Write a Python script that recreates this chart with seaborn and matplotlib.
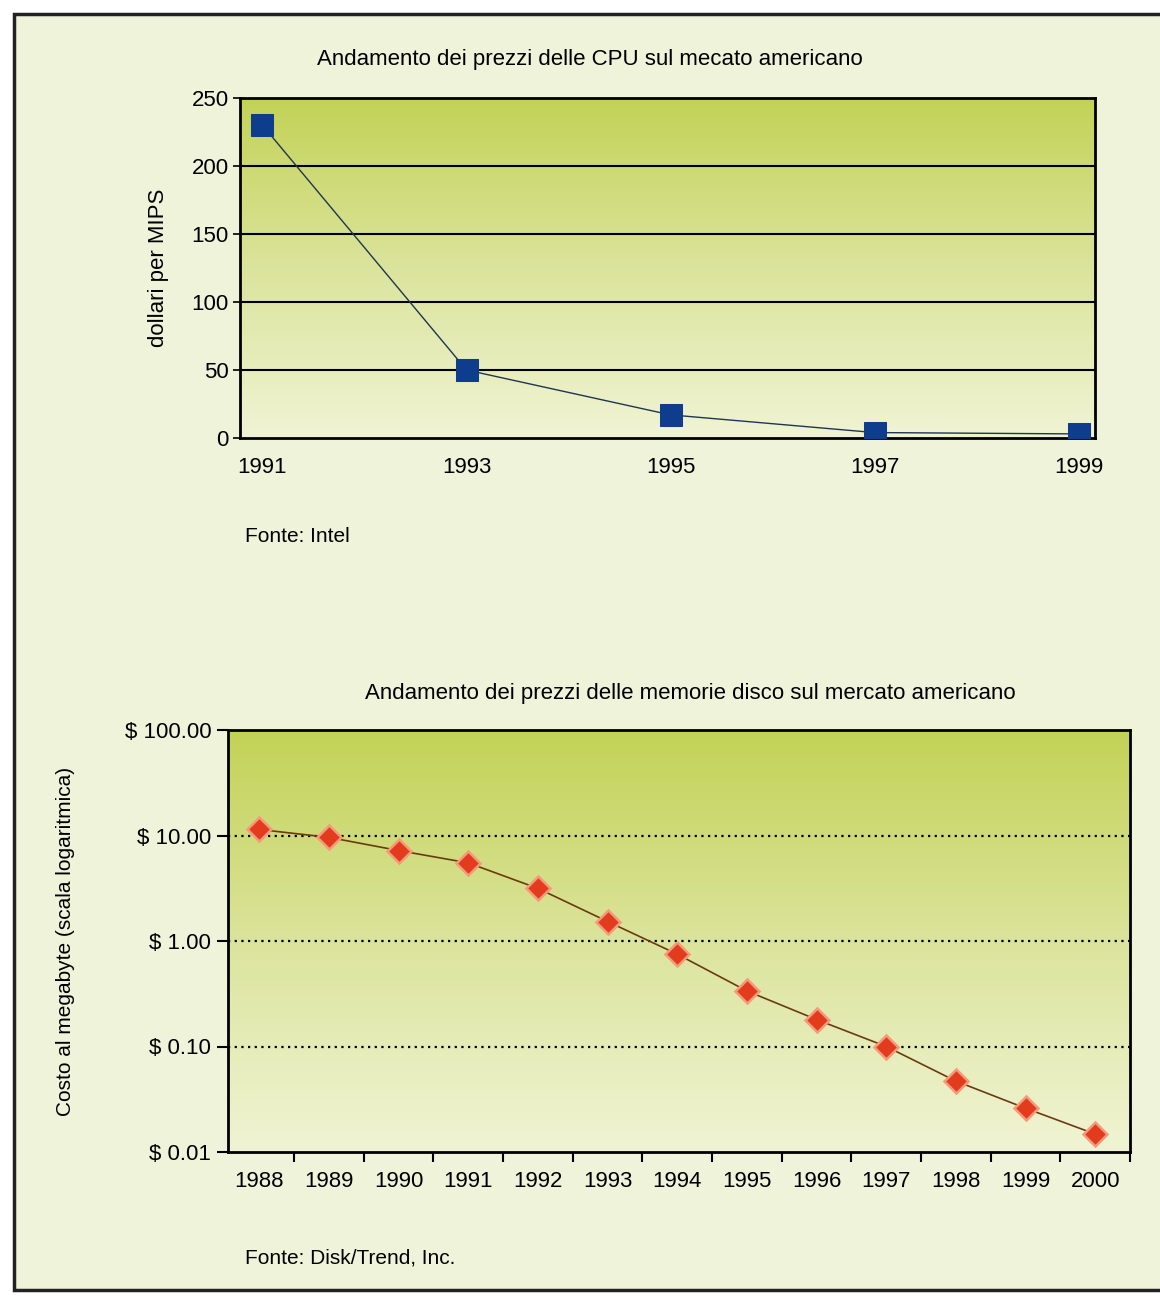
import numpy as np
import pandas as pd
import matplotlib
matplotlib.use("Agg")
import matplotlib.pyplot as plt
import seaborn as sns
from matplotlib.colors import LinearSegmentedColormap
from matplotlib.patches import Rectangle

# Dati
anni_cpu = ["1991", "1993", "1995", "1997", "1999"]
prezzo_cpu = [230, 50, 17, 4, 3]

anni_disco = ["1988", "1989", "1990", "1991", "1992", "1993", "1994",
              "1995", "1996", "1997", "1998", "1999", "2000"]
prezzo_disco = [11.4, 9.6, 7.2, 5.5, 3.15, 1.53, 0.75,
                0.336, 0.18, 0.10, 0.047, 0.026, 0.0148]

tick_disco = [0.01, 0.1, 1, 10, 100]
label_disco = ["$ 0.01", "$ 0.10", "$ 1.00", "$ 10.00", "$ 100.00"]

sns.set_style("white")
plt.rcParams["font.family"] = ["Liberation Sans Narrow", "Liberation Sans", "DejaVu Sans"]
plt.rcParams["text.color"] = "black"
plt.rcParams["xtick.color"] = "black"
plt.rcParams["ytick.color"] = "black"
plt.rcParams["axes.labelcolor"] = "black"

W, H = 1160, 1298
fig = plt.figure(figsize=(W / 100, H / 100), dpi=100)
fig.patch.set_facecolor("white")

# Sfondo e cornice esterna
bg = Rectangle((14 / W, 1 - 1290 / H), (W + 20) / W, (1290 - 14) / H,
               transform=fig.transFigure, facecolor="#eef3da",
               edgecolor="#222222", linewidth=2.5, zorder=-10)
fig.patches.append(bg)

grad = LinearSegmentedColormap.from_list("g", ["#f0f4d4", "#dbe49c", "#c3d256"])


def ax_rect(l, t, r, b):
    return [l / W, 1 - b / H, (r - l) / W, (b - t) / H]


def gradiente(ax):
    ax.imshow(np.linspace(0, 1, 256).reshape(-1, 1), cmap=grad, origin="lower",
              aspect="auto", extent=[0, 1, 0, 1], transform=ax.transAxes,
              zorder=0, interpolation="bicubic")


# --- Grafico CPU ---
ax1 = fig.add_axes(ax_rect(240, 98, 1095, 438))
df_cpu = pd.DataFrame({"pos": np.arange(len(anni_cpu)), "prezzo": prezzo_cpu})
gradiente(ax1)
sns.lineplot(data=df_cpu, x="pos", y="prezzo", ax=ax1, color="#1f3550",
             linewidth=1.0, marker="s", markersize=16, markerfacecolor="#0d3d8c",
             markeredgecolor="#0d3d8c", zorder=3)
ax1.set_xlim(-0.11, 4.08)
ax1.set_ylim(0, 250)
ax1.set_yticks([0, 50, 100, 150, 200, 250])
ax1.set_xticks(df_cpu["pos"])
ax1.set_xticklabels(anni_cpu)
for v in [50, 100, 150, 200]:
    ax1.axhline(v, color="black", linewidth=1.5, zorder=1)
ax1.tick_params(axis="y", left=True, direction="out", length=5, width=1.2,
                labelsize=16, pad=3)
ax1.tick_params(axis="x", length=0, labelsize=16, pad=14)
ax1.set_xlabel("")
ax1.set_ylabel("dollari per MIPS", fontsize=16, labelpad=16)
for s in ax1.spines.values():
    s.set_visible(True)
    s.set_color("black")
    s.set_linewidth(2)
fig.text(590 / W, 1 - 60 / H, "Andamento dei prezzi delle CPU sul mecato americano",
         ha="center", va="center", fontsize=16)
fig.text(245 / W, 1 - 537 / H, "Fonte: Intel", ha="left", va="center", fontsize=15)

# --- Grafico memorie disco ---
ax2 = fig.add_axes(ax_rect(228, 730, 1130, 1152))
df_disco = pd.DataFrame({"pos": np.arange(len(anni_disco)), "prezzo": prezzo_disco})
gradiente(ax2)
sns.lineplot(data=df_disco, x="pos", y="prezzo", ax=ax2, color="#6b3a10",
             linewidth=1.2, marker="D", markersize=12, markerfacecolor="#e33b1e",
             markeredgecolor="#f59a7a", markeredgewidth=1.8, zorder=3)
ax2.set_yscale("log")
ax2.set_ylim(0.01, 100)
ax2.set_xlim(-0.45, 12.5)
ax2.set_yticks(tick_disco)
ax2.set_yticklabels(label_disco)
ax2.minorticks_off()
for v in [0.1, 1, 10]:
    ax2.axhline(v, color="black", linewidth=1.6, linestyle=(0, (1, 2)), zorder=1)
ax2.set_xticks(df_disco["pos"])
ax2.set_xticklabels(anni_disco)
ax2.set_xticks(np.arange(len(anni_disco)) + 0.5, minor=True)
ax2.tick_params(axis="x", which="major", bottom=True, length=0, labelsize=16, pad=14)
ax2.tick_params(axis="x", which="minor", bottom=True, direction="out", length=7, width=1.5)
ax2.tick_params(axis="y", which="major", left=True, direction="out", length=8,
                width=1.5, labelsize=16, pad=4)
ax2.set_xlabel("")
ax2.set_ylabel("Costo al megabyte (scala logaritmica)", fontsize=15, labelpad=36)
for s in ax2.spines.values():
    s.set_visible(True)
    s.set_color("black")
    s.set_linewidth(2)
fig.text(690 / W, 1 - 693 / H,
         "Andamento dei prezzi delle memorie disco sul mercato americano",
         ha="center", va="center", fontsize=16)
fig.text(245 / W, 1 - 1258 / H, "Fonte: Disk/Trend, Inc.", ha="left",
         va="center", fontsize=15)

fig.savefig("out.png", dpi=100)
